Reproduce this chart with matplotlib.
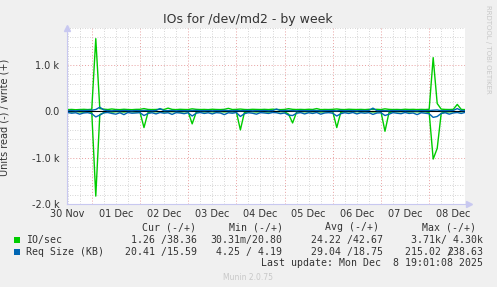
import matplotlib
matplotlib.use("Agg")
import matplotlib.pyplot as plt
import matplotlib.ticker as mticker
from matplotlib.patches import Rectangle
import numpy as np

# ---- data (2-hour samples starting 30 Nov 12:00) ----
start_hour = 12  # hours after 30 Nov 00:00
step_hours = 2

io_write = [38, 42, 35, 40, 44, 39,
            45, 1570, 60, 48, 40, 52,
            41, 38, 46, 40, 37, 43,
            44, 60, 42, 39, 41, 47,
            40, 70, 43, 38, 45, 41,
            39, 55, 44, 40, 42, 38,
            46, 41, 39, 44, 65, 40,
            43, 50, 41, 38, 45, 42,
            40, 44, 39, 47, 41, 38,
            42, 58, 44, 40, 43, 39,
            45, 41, 60, 38, 42, 40,
            44, 52, 41, 39, 46, 42,
            40, 43, 38, 45, 41, 44,
            39, 55, 43, 40, 42, 38,
            46, 41, 44, 39, 43, 40,
            45, 1160, 170, 48, 42, 40,
            44, 150, 41, 38]

io_read = [8, 12, 5, 10, 15, 6,
           20, 1830, 70, 30, 10, 14,
           6, 9, 12, 5, 8, 11,
           15, 350, 25, 8, 6, 10,
           12, 7, 5, 9, 14, 6,
           10, 270, 20, 7, 9, 5,
           8, 12, 6, 10, 5, 9,
           12, 400, 25, 8, 6, 11,
           7, 9, 13, 5, 10, 6,
           9, 60, 250, 15, 8, 6,
           11, 7, 5, 12, 8, 10,
           6, 350, 20, 9, 7, 12,
           5, 10, 8, 6, 11, 9,
           7, 430, 25, 10, 8, 5,
           9, 12, 6, 8, 10, 7,
           25, 1030, 800, 40, 15, 9,
           7, 10, 6, 1]

req_write = [14, 18, 12, 20, 16, 22,
             25, 40, 90, 30, 15, 12,
             18, 14, 20, 16, 12, 19,
             15, 20, 17, 13, 18, 60,
             14, 16, 19, 12, 17, 15,
             13, 18, 20, 16, 14, 19,
             12, 17, 15, 21, 16, 13,
             18, 14, 16, 20, 12, 17,
             15, 19, 13, 16, 50, 14,
             17, 20, 15, 12, 18, 16,
             14, 19, 17, 13, 15, 18,
             16, 12, 20, 14, 17, 15,
             13, 18, 16, 19, 70, 14,
             17, 15, 12, 18, 16, 20,
             14, 17, 15, 13, 19, 16,
             18, 25, 30, 15, 14, 17,
             20, 60, 18, 16]

req_read = [25, 40, 30, 60, 35, 28,
            50, 120, 80, 30, 25, 45,
            60, 30, 70, 25, 40, 35,
            28, 90, 45, 30, 55, 25,
            40, 30, 65, 28, 35, 50,
            30, 100, 40, 25, 45, 30,
            55, 28, 35, 70, 30, 40,
            25, 110, 50, 30, 40, 60,
            28, 35, 45, 25, 30, 50,
            35, 80, 90, 40, 28, 55,
            30, 45, 25, 60, 35, 28,
            40, 100, 50, 30, 45, 25,
            55, 30, 40, 28, 65, 35,
            30, 90, 60, 28, 40, 50,
            25, 45, 35, 70, 30, 40,
            50, 130, 110, 45, 30, 60,
            35, 25, 45, 20]

day_labels = ["30 Nov", "01 Dec", "02 Dec", "03 Dec", "04 Dec",
              "05 Dec", "06 Dec", "07 Dec", "08 Dec"]
y_ticks = [-2000, -1000, 0, 1000]
y_tick_labels = ["-2.0 k", "-1.0 k", "0.0", "1.0 k"]

legend_headers = ["Cur (-/+)", "Min (-/+)", "Avg (-/+)", "Max (-/+)"]
legend_names = ["IO/sec", "Req Size (KB)"]
legend_colors = ["#00CC00", "#0066B3"]
legend_values = [["1.26 /38.36", "30.31m/20.80", "24.22 /42.67", "3.71k/ 4.30k"],
                 ["20.41 /15.59", "4.25 / 4.19", "29.04 /18.75", "215.02 /238.63"]]

# ---- figure ----
W, H = 497, 287
fig = plt.figure(figsize=(W / 100, H / 100), dpi=100, facecolor="#F0F0F0")
px = lambda x: x / W
py = lambda y: 1 - y / H

ax_l, ax_r, ax_t, ax_b = 67, 465, 28, 204
ax = fig.add_axes([px(ax_l), py(ax_b), px(ax_r - ax_l), (ax_b - ax_t) / H])
ax.set_facecolor("white")

n = len(io_write)
x = start_hour + step_hours * np.arange(n)

x0 = 11.67
x1 = x0 + (ax_r - ax_l) / 48.2 * 24
ax.set_xlim(x0, x1)
ax.set_ylim(-2000, 1800)

# grid
ax.xaxis.set_major_locator(mticker.FixedLocator([24 * k for k in range(1, 9)]))
ax.xaxis.set_minor_locator(mticker.MultipleLocator(6))
ax.xaxis.set_major_formatter(mticker.NullFormatter())
noon_pos = [12 + 24 * k for k in range(len(day_labels))]
lab_map = {p: l for p, l in zip(noon_pos, day_labels)}
ax.xaxis.set_minor_formatter(mticker.FuncFormatter(
    lambda v, p: lab_map.get(int(round(v)), "") if abs(v - round(v)) < 1e-6 else ""))
ax.yaxis.set_major_locator(mticker.FixedLocator(y_ticks))
ax.yaxis.set_major_formatter(mticker.FixedFormatter(y_tick_labels))
ax.yaxis.set_minor_locator(mticker.MultipleLocator(200))

ax.grid(which="major", color="#E8A0A0", linestyle=(0, (1, 2)), linewidth=0.7)
ax.grid(which="minor", color="#C8C8C8", linestyle=(0, (1, 2)), linewidth=0.6)
ax.set_axisbelow(True)

ax.tick_params(which="both", length=0, colors="#333333", labelsize=7)
ax.tick_params(axis="x", which="minor", pad=3.5)
ax.tick_params(axis="y", which="major", pad=5.5)

for s in ["top", "right"]:
    ax.spines[s].set_visible(False)
for s in ["left", "bottom"]:
    ax.spines[s].set_color("#C8C8F0")
    ax.spines[s].set_linewidth(0.8)

ax.plot([0], [1.0], marker="^", color="#C8C8F0", markersize=4,
        transform=ax.transAxes, clip_on=False)
ax.plot([1.01], [0], marker=">", color="#C8C8F0", markersize=4,
        transform=ax.transAxes, clip_on=False)

# data lines
ax.plot(x, -np.array(io_read), color="#00CC00", linewidth=1.0)
ax.plot(x, io_write, color="#00CC00", linewidth=1.0)
ax.axhline(0, color="#000000", linewidth=0.8)
ax.plot(x, -np.array(req_read), color="#0066B3", linewidth=1.0)
ax.plot(x, req_write, color="#0066B3", linewidth=1.0)

ax.set_ylabel("Units read (-) / write (+)", fontsize=7, color="#333333")
ax.yaxis.set_label_coords(px(10 - ax_l) / px(ax_r - ax_l), 0.49)

# title and side texts
fig.text(px(248), py(19), "IOs for /dev/md2 - by week", ha="center", va="center",
         fontsize=9, color="#333333")
fig.text(px(488), py(5), "RRDTOOL / TOBI OETIKER", ha="center", va="top",
         rotation=-90, fontsize=5, color="#C8C8C8")
fig.text(px(248), py(277), "Munin 2.0.75", ha="center", va="center",
         fontsize=5.5, color="#C8C8C8")

# legend
mono = dict(family="DejaVu Sans Mono", fontsize=7.1, color="#333333", va="center")
col_right = [197, 282, 383, 483]
head_right = [196, 283, 379, 476]
for h, r in zip(legend_headers, head_right):
    fig.text(px(r), py(227), h, ha="right", **mono)
rows_y = [240, 252]
for name, color, vals, ry in zip(legend_names, legend_colors, legend_values, rows_y):
    fig.patches.append(Rectangle((px(14), py(ry + 3)), px(6), 6 / H,
                                 transform=fig.transFigure, facecolor=color,
                                 edgecolor="none"))
    fig.text(px(26), py(ry), name, ha="left", **mono)
    for v, r in zip(vals, col_right):
        if v == "215.02 /238.63":
            # the reference overprints the slash on the first digit
            left, right = v.split("/")
            fig.text(px(r), py(ry), right, ha="right", **mono)
            fig.text(px(r - 30), py(ry), left + "/", ha="right", **mono)
        else:
            fig.text(px(r), py(ry), v, ha="right", **mono)
fig.text(px(483), py(263), "Last update: Mon Dec  8 19:01:08 2025", ha="right", **mono)

fig.savefig("out.png", dpi=100, facecolor=fig.get_facecolor())
